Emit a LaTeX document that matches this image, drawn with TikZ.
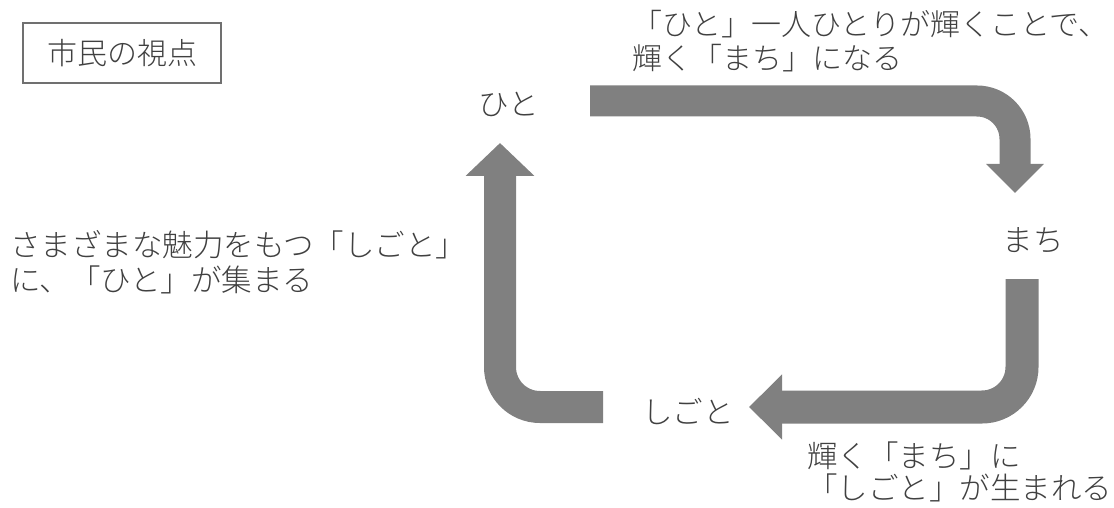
\documentclass[tikz,border=0pt]{standalone}
\usepackage{fontspec}
\setmainfont{Noto Sans CJK JP}[UprightFont={* Light}]
\usetikzlibrary{arrows.meta}
\definecolor{flowgray}{HTML}{808080}
\definecolor{txtgray}{HTML}{404040}
\definecolor{boxgray}{HTML}{707070}
\begin{document}
\begin{tikzpicture}[x=1pt,y=-1pt,
  every node/.style={text=txtgray,inner sep=0pt,font=\fontsize{30.5}{34}\selectfont},
  place/.style={},
  label/.style={align=left,anchor=west},
  titlebox/.style={draw=boxgray,line width=1.4pt,minimum width=198pt,minimum height=60pt},
  flowA/.style={draw=flowgray,line width=31pt,rounded corners=38pt,-{Triangle[width=56pt,length=29pt]}},
  flowB/.style={draw=flowgray,line width=33pt,rounded corners=40pt,-{Triangle[width=63pt,length=33pt]}},
  flowC/.style={draw=flowgray,line width=32pt,rounded corners=40pt,-{Triangle[width=67pt,length=33pt]}}]
\useasboundingbox (0,0) rectangle (1114,508);
\node[titlebox,font=\fontsize{30}{34}\selectfont] (title) at (122,53) {市民の視点};
\node[place] (hito) at (509,104) {ひと};
\node[place] (machi) at (1033,240) {まち};
\node[place] (shigoto) at (688,411) {しごと};
\node[label,font=\fontsize{30}{34}\selectfont] (la) at (632,41) {「ひと」一人ひとりが輝くことで、\\輝く「まち」になる};
\node[label,font=\fontsize{30.5}{35}\selectfont] (lc) at (10,262) {さまざまな魅力をもつ「しごと」\\に、「ひと」が集まる};
\node[label,font=\fontsize{30.5}{32}\selectfont] (lb) at (807,472) {輝く「まち」に\\「しごと」が生まれる};
\coordinate (a1) at (590,101);
\coordinate (a2) at (1015,193);
\coordinate (b1) at (1022,279);
\coordinate (b2) at (749,407);
\coordinate (c1) at (603,407);
\coordinate (c2) at (500,143);
\draw[flowA] (a1) -| (a2);
\draw[flowB] (b1) |- (b2);
\draw[flowC] (c1) -| (c2);
\end{tikzpicture}
\end{document}
